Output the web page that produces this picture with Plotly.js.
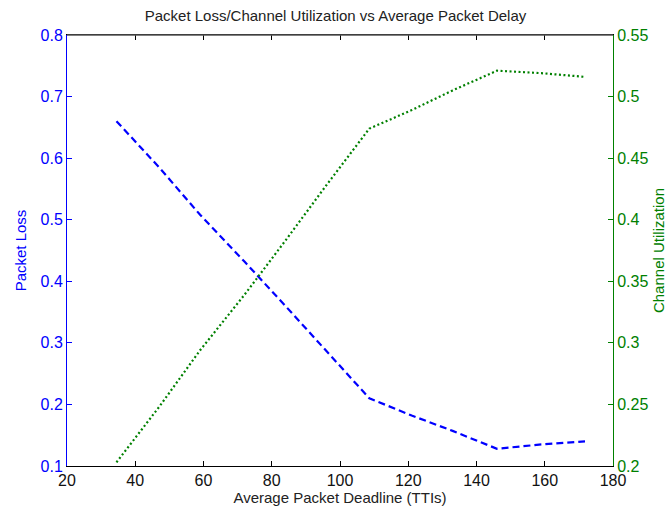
<!DOCTYPE html>
<html>
<head>
<meta charset="utf-8">
<script src="https://cdn.plot.ly/plotly-3.0.1.min.js"></script>
<style>html,body{margin:0;padding:0;background:#fff;}#chart{width:671px;height:517px;}</style>
</head>
<body>
<div id="chart"></div>
<script>
var deadlines = [34.5, 47, 59, 72, 84, 96, 108.6, 121, 133, 146, 159, 171.8];
var packetLoss = [0.66, 0.585, 0.508, 0.432, 0.36, 0.286, 0.21, 0.182, 0.157, 0.128, 0.135, 0.14];
var channelUtil = [0.203, 0.248, 0.294, 0.339, 0.383, 0.428, 0.474, 0.489, 0.505, 0.521, 0.519, 0.516];

var FONT = 'Liberation Sans, Arial, sans-serif';
var BLUE = '#0000ff';
var GREEN = '#008000';

var traces = [
  {x: deadlines, y: packetLoss, type: 'scatter', mode: 'lines', name: 'Packet Loss',
   line: {color: BLUE, width: 2.2, dash: '7px,4px'}, yaxis: 'y'},
  {x: deadlines, y: channelUtil, type: 'scatter', mode: 'lines', name: 'Channel Utilization',
   line: {color: GREEN, width: 2.2, dash: '2px,2.5px'}, yaxis: 'y2'}
];

var layout = {
  width: 671, height: 517,
  margin: {l: 66.5, r: 58, t: 35, b: 51, pad: 0},
  paper_bgcolor: '#fff', plot_bgcolor: '#fff',
  showlegend: false,
  font: {family: FONT, size: 16, color: '#000'},
  title: {text: 'Packet Loss/Channel Utilization vs Average Packet Delay',
          font: {family: FONT, size: 15, color: '#222'}, x: 0.5, xanchor: 'center', y: 0.97, yanchor: 'middle'},
  xaxis: {range: [20, 180], dtick: 20, tick0: 20, ticks: 'inside', ticklen: 5, tickcolor: '#000',
          showline: true, linecolor: '#000', linewidth: 1, mirror: 'ticks', showgrid: false, zeroline: false,
          tickfont: {family: FONT, size: 16, color: '#111'},
          title: {text: 'Average Packet Deadline (TTIs)', font: {family: FONT, size: 15, color: '#222'}, standoff: 4}},
  yaxis: {range: [0.1, 0.8], dtick: 0.1, tick0: 0.1, ticks: 'inside', ticklen: 5, tickcolor: BLUE,
          showline: true, linecolor: BLUE, linewidth: 1, showgrid: false, zeroline: false,
          tickfont: {family: FONT, size: 16, color: BLUE},
          title: {text: 'Packet Loss', font: {family: FONT, size: 15, color: BLUE}, standoff: 10}},
  yaxis2: {range: [0.2, 0.55], dtick: 0.05, tick0: 0.2, ticks: 'inside', ticklen: 5, tickcolor: GREEN,
           overlaying: 'y', side: 'right', showline: true, linecolor: GREEN, linewidth: 1,
           showgrid: false, zeroline: false,
           tickfont: {family: FONT, size: 16, color: GREEN},
           title: {text: 'Channel Utilization', font: {family: FONT, size: 15, color: GREEN}, standoff: 6}},
  shapes: [{type: 'line', xref: 'paper', yref: 'paper', x0: 0, x1: 1, y0: 1, y1: 1,
            line: {color: '#555', width: 1.5}}]
};

Plotly.newPlot('chart', traces, layout, {displayModeBar: false, staticPlot: true});
</script>
</body>
</html>
